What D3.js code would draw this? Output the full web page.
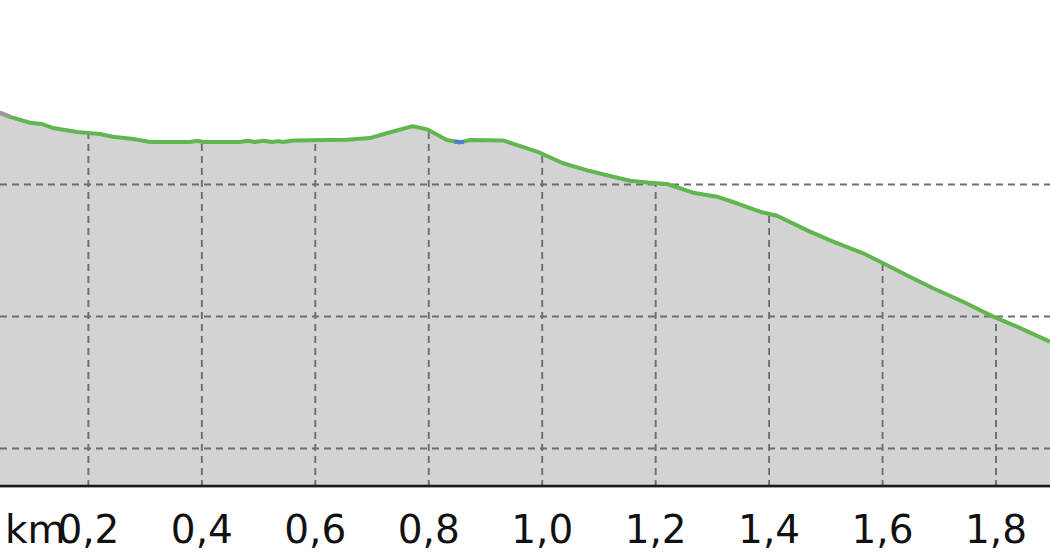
<!DOCTYPE html>
<html>
<head>
<meta charset="utf-8">
<script src="https://cdn.jsdelivr.net/npm/d3@7"></script>
<style>
  html, body { margin: 0; padding: 0; background: #fff; }
  svg { display: block; }
  text { font-family: "DejaVu Sans", sans-serif; }
</style>
</head>
<body>
<svg id="chart" width="1050" height="560"></svg>
<script>
// ---- data ----
const distanceKm = [0.044, 0.062, 0.097, 0.120, 0.138, 0.180, 0.220, 0.243, 0.279, 0.309,
  0.379, 0.392, 0.402, 0.467, 0.480, 0.494, 0.508, 0.524, 0.534, 0.543, 0.561, 0.656,
  0.696, 0.732, 0.772, 0.797, 0.832, 0.855, 0.873, 0.931, 0.956, 0.991, 1.037, 1.084,
  1.125, 1.155, 1.190, 1.220, 1.266, 1.308, 1.343, 1.384, 1.414, 1.472, 1.513, 1.566,
  1.601, 1.648, 1.689, 1.742, 1.795, 1.837, 1.895];
const elevationM = [135.40, 135.08, 134.64, 134.52, 134.24, 133.94, 133.79, 133.58, 133.41, 133.18,
  133.18, 133.28, 133.18, 133.18, 133.27, 133.18, 133.27, 133.18, 133.25, 133.18, 133.30, 133.36,
  133.48, 133.92, 134.38, 134.14, 133.33, 133.15, 133.33, 133.30, 132.95, 132.45, 131.57, 130.98,
  130.55, 130.25, 130.10, 130.00, 129.34, 129.04, 128.54, 127.90, 127.60, 126.39, 125.63, 124.75,
  123.99, 122.98, 122.10, 121.08, 119.95, 119.19, 118.05];
const xTicks = [0.2, 0.4, 0.6, 0.8, 1.0, 1.2, 1.4, 1.6, 1.8];
const yGridValues = [110, 120, 130];
const xUnitLabel = "km";
const startSegmentEndKm = 0.062;   // gray lead-in
const blueSegmentKm = [0.845, 0.862]; // small blue piece

// ---- layout ----
const W = 1050, H = 560;
const axisY = 486;
const svg = d3.select("#chart");

const x = d3.scaleLinear().domain([0.2, 1.8]).range([88.4, 996]);
const y = d3.scaleLinear().domain([110, 130]).range([448, 184]);

const data = distanceKm.map((d, i) => ({ km: d, ele: elevationM[i] }));

const locale = d3.formatLocale({ decimal: ",", thousands: ".", grouping: [3], currency: ["", "€"] });
const fmt = locale.format(".1f");

const area = d3.area()
  .x(d => x(d.km))
  .y0(axisY + 2)
  .y1(d => y(d.ele));
const line = d3.line().x(d => x(d.km)).y(d => y(d.ele));

svg.append("defs").append("clipPath").attr("id", "areaClip")
  .append("path").attr("d", area(data));

// area
svg.append("path")
  .attr("d", area(data))
  .attr("fill", "#d3d3d3");

// horizontal grid (full width)
svg.append("g").selectAll("line").data(yGridValues).join("line")
  .attr("x1", 0).attr("x2", W)
  .attr("y1", d => Math.round(y(d)) + 0.5).attr("y2", d => Math.round(y(d)) + 0.5)
  .attr("stroke", "#6e6e6e").attr("stroke-width", 1.9)
  .attr("stroke-dasharray", "7,5");

// vertical grid (only under the profile)
svg.append("g").attr("clip-path", "url(#areaClip)")
  .selectAll("line").data(xTicks).join("line")
  .attr("x1", d => x(d)).attr("x2", d => x(d))
  .attr("y1", 0).attr("y2", axisY)
  .attr("stroke", "#6e6e6e").attr("stroke-width", 1.9)
  .attr("stroke-dasharray", "7,5");

// profile line
svg.append("path")
  .attr("d", line(data))
  .attr("fill", "none")
  .attr("stroke", "#62b64f")
  .attr("stroke-width", 4)
  .attr("stroke-linejoin", "round");

// gray lead-in
svg.append("path")
  .attr("d", line(data.filter(d => d.km <= startSegmentEndKm)))
  .attr("fill", "none").attr("stroke", "#9a9a9a").attr("stroke-width", 4);

// blue bit
const blueData = [
  { km: blueSegmentKm[0], ele: 133.22 },
  { km: blueSegmentKm[1], ele: 133.16 }
];
svg.append("path")
  .attr("d", line(blueData))
  .attr("fill", "none").attr("stroke", "#4f7fcf").attr("stroke-width", 4);

// x axis line
svg.append("line")
  .attr("x1", 0).attr("x2", W)
  .attr("y1", axisY).attr("y2", axisY)
  .attr("stroke", "#1a1a1a").attr("stroke-width", 2.4);

// tick labels
svg.append("g").selectAll("text").data(xTicks).join("text")
  .attr("x", d => x(d)).attr("y", 543)
  .attr("text-anchor", "middle")
  .attr("font-size", 39)
  .attr("fill", "#111")
  .text(d => fmt(d));

svg.append("text")
  .attr("x", 5).attr("y", 543)
  .attr("font-size", 39)
  .attr("fill", "#111")
  .text(xUnitLabel);
</script>
</body>
</html>
